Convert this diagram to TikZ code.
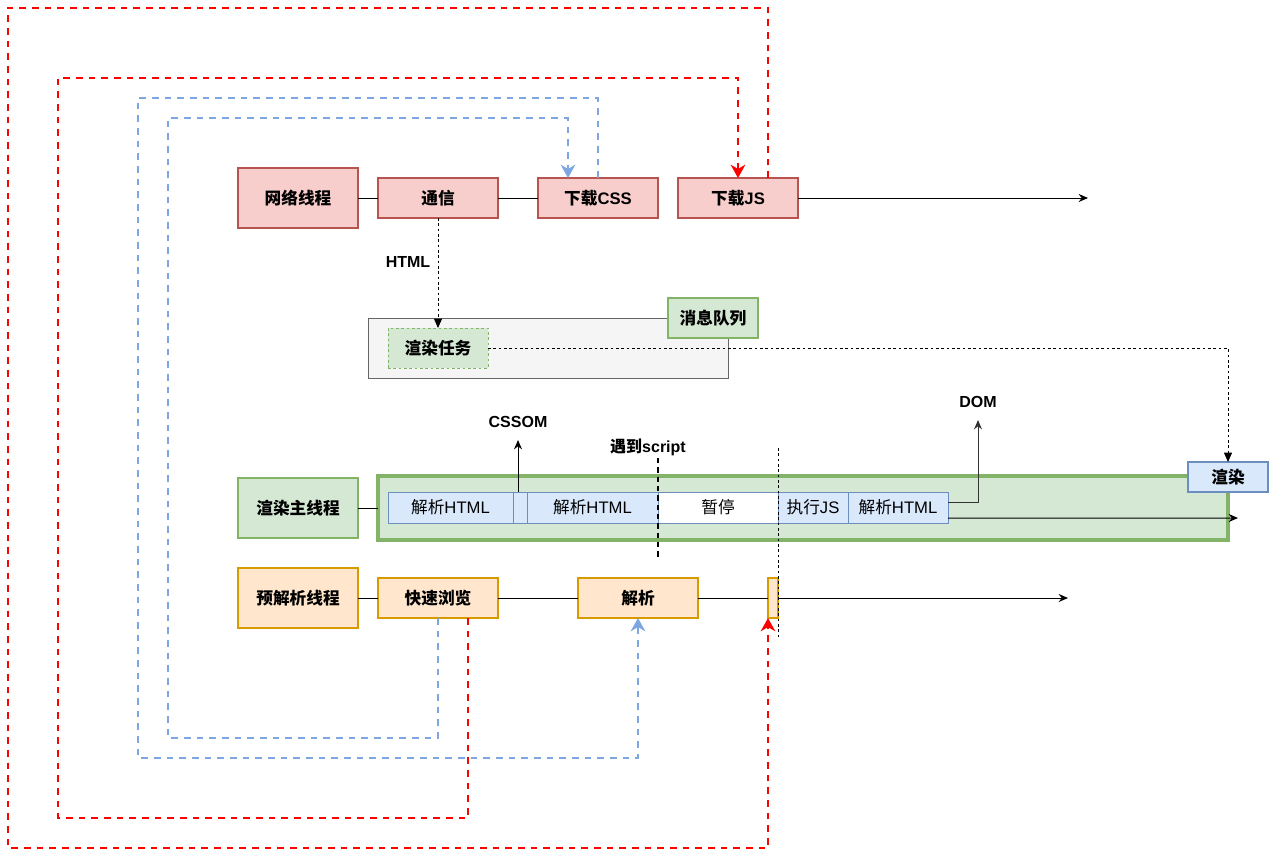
\documentclass[tikz,border=0pt]{standalone}
\usepackage{fontspec}
\setmainfont{Liberation Sans}
\newfontfamily\cjk{Noto Sans CJK SC}
\usetikzlibrary{arrows.meta,calc}
\definecolor{redf}{HTML}{F8CECC}\definecolor{redd}{HTML}{B85450}
\definecolor{greenf}{HTML}{D5E8D4}\definecolor{greend}{HTML}{82B366}
\definecolor{bluef}{HTML}{DAE8FC}\definecolor{blued}{HTML}{6C8EBF}
\definecolor{orf}{HTML}{FFE6CC}\definecolor{ord}{HTML}{D79B00}
\definecolor{grayf}{HTML}{F5F5F5}\definecolor{grayd}{HTML}{666666}
\definecolor{loopblue}{HTML}{7EA6E0}\definecolor{loopred}{HTML}{FF0000}
\tikzset{
  base/.style={draw, inner sep=0pt, align=center, font=\bfseries\fontsize{12.5}{14}\selectfont},
  thread/.style={base, line width=2pt, minimum width=90pt, minimum height=45pt},
  task/.style={base, line width=2pt, minimum width=90pt, minimum height=30pt},
  redbox/.style={fill=redf, draw=redd},
  greenbox/.style={fill=greenf, draw=greend},
  orbox/.style={fill=orf, draw=ord},
  seg/.style={draw=blued, fill=bluef, line width=0.6pt, inner sep=0pt, minimum height=23.25pt, font=\fontsize{12.5}{14}\selectfont},
  lbl/.style={inner sep=1pt, font=\bfseries\fontsize{12}{14}\selectfont},
  conn/.style={line width=0.75pt},
  arr/.style={line width=0.75pt, -{Stealth[length=7pt,width=6pt]}},
  darr/.style={line width=0.6pt, dash pattern=on 2pt off 2pt, -{Stealth[length=7pt,width=6pt,inset=0pt]}},
  bloop/.style={draw=loopblue, line width=1.5pt, dash pattern=on 5pt off 4.5pt, -{Stealth[length=10pt,width=11pt]}},
  rloop/.style={draw=loopred, line width=1.5pt, dash pattern=on 5pt off 4.5pt, -{Stealth[length=10pt,width=11pt]}},
}
\begin{document}
\begin{tikzpicture}[x=0.75pt,y=-0.75pt, every node/.append style={outer sep=0pt}]
\useasboundingbox (0,0) rectangle (1270,858);
% network thread row
\node[thread,redbox] (net) at (298,198) {\cjk 网络线程};
\node[task,redbox] (comm) at (438,198) {\cjk 通信};
\node[task,redbox] (css) at (598,198) {{\cjk 下载}CSS};
\node[task,redbox] (js) at (738,198) {{\cjk 下载}JS};
\coordinate (jsend) at (1088,198);
% message queue
\node[draw=grayd, fill=grayf, line width=0.75pt, minimum width=270pt, minimum height=45pt, inner sep=0pt] (queue) at (548,348) {};
\node[base, greenbox, line width=1pt, minimum width=67.5pt, minimum height=30pt] (mq) at (713,318) {\cjk 消息队列};
\node[base, greenbox, line width=0.6pt, dash pattern=on 2pt off 2pt, minimum width=75pt, minimum height=30pt] (rtask) at (438,348) {\cjk 渲染任务};
\node[lbl] (html) at (408,262) {HTML};
% main thread
\node[thread,greenbox] (main) at (298,508) {\cjk 渲染主线程};
\node[draw=greend, fill=greenf, line width=2.4pt, minimum width=637.5pt, minimum height=48pt, inner sep=0pt] (bar) at (803,508) {};
\node[seg, minimum width=93.75pt] (s1) at (450.5,507.5) {{\cjk 解析}HTML};
\node[seg, minimum width=10.5pt] (s2) at (520,507.5) {};
\node[seg, minimum width=98.25pt] (s3) at (592.5,507.5) {{\cjk 解析}HTML};
\node[seg, fill=white, minimum width=90pt] (s4) at (718,507.5) {\cjk 暂停};
\node[seg, minimum width=52.5pt] (s5) at (813,507.5) {{\cjk 执行}JS};
\node[seg, minimum width=75pt] (s6) at (898,507.5) {{\cjk 解析}HTML};
\node[base, fill=bluef, draw=blued, line width=2.2pt, minimum width=60pt, minimum height=22.5pt] (render) at (1228,477) {\cjk 渲染};
\node[lbl] (cssom) at (518,422) {CSSOM};
\node[lbl] (script) at (648,447) {{\cjk 遇到}script};
\node[lbl] (dom) at (978,402) {DOM};
\coordinate (cssomtip) at (518,440);
\coordinate (domtip) at (978,420);
\coordinate (barend) at (1238,518);
\coordinate (scripttop) at (658,458);
\coordinate (scriptbot) at (658,560);
\coordinate (dottop) at (778,448);
\coordinate (dotbot) at (778,638);
% pre-parse thread
\node[thread,orbox] (pre) at (298,598) {\cjk 预解析线程};
\node[task,orbox] (skim) at (438,598) {\cjk 快速浏览};
\node[task,orbox] (parse) at (638,598) {\cjk 解析};
\node[task,orbox, minimum width=7.5pt] (small) at (773,598) {};
\coordinate (preend) at (1068,598);
% connectors
\draw[conn] (net) -- (comm);
\draw[conn] (comm) -- (css);
\draw[arr] (js.east) -- (jsend);
\draw[darr] (comm.south) -- (rtask.north);
\draw[darr] (rtask.east) -| (render.north);
\draw[conn] (main) -- (bar);
\draw[arr] ([xshift=-1.5pt]s2.north) -- ([xshift=-1.5pt]s2.north |- cssomtip);
\draw[arr, draw=black!80] ([yshift=4pt]s6.east) -| (domtip);
\draw[arr] ([yshift=-7.9pt]s6.east) -- (barend);
\draw[line width=1.4pt, dash pattern=on 4pt off 3pt] (scripttop) -- (scriptbot);
\draw[line width=0.6pt, dash pattern=on 2pt off 2pt] (dottop) -- (dotbot);
\draw[conn] (pre) -- (skim);
\draw[conn] (skim) -- (parse);
\draw[conn] (parse) -- (small);
\draw[arr] (small) -- (preend);
% loops
\draw[rloop] ([xshift=22.5pt]js.north) |- (8,8) |- (768,848) -- (small.south west);
\draw[rloop] ([xshift=22.5pt]skim.south) |- (58,818) |- (738,78) -- (js.north);
\draw[bloop] (css.north) |- (138,98) |- (638,758) -- (parse.south);
\draw[bloop] (skim.south) |- (168,738) |- (568,118) -- ([xshift=-22.5pt]css.north);
\end{tikzpicture}
\end{document}
